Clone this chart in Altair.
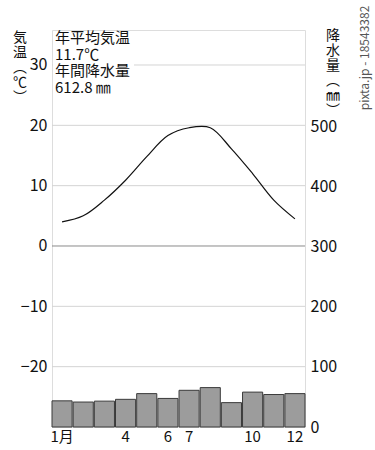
import json
import altair as alt
import pandas as pd

months = list(range(1, 13))
month_labels = ["1月", "", "", "4", "", "6", "7", "", "", "10", "", "12"]
temperature = [4.0, 5.0, 7.6, 10.9, 14.8, 18.3, 19.6, 19.6, 16.1, 12.0, 7.6, 4.5]
precipitation = [43.5, 41.5, 43.0, 46.0, 55.5, 47.5, 61.0, 65.5, 40.5, 58.0, 54.0, 55.5]
temp_ticks = [-20, -10, 0, 10, 20, 30]
precip_ticks = [0, 100, 200, 300, 400, 500]
grid_light = [30, 20, 10, -10, -20]
grid_zero = [0]
info_text = "年平均気温\n11.7℃\n年間降水量\n612.8 ㎜"
left_title = "気\n温\n︵\n℃\n︶"
right_title = "降\n水\n量\n︵\n㎜\n︶"
watermark = "pixta.jp - 18543382"

FONT = "Noto Sans CJK JP"
TEMP_DOMAIN = [-30, 35.8]
PRECIP_DOMAIN = [0, 660]

df = pd.DataFrame({"month": months, "temp": temperature, "precip": precipitation})
grid_df = pd.DataFrame({"v": grid_light})
zero_df = pd.DataFrame({"v": grid_zero})

label_expr = json.dumps(month_labels, ensure_ascii=False) + "[datum.value-1]"

x_enc = alt.X(
    "month:O",
    scale=alt.Scale(paddingInner=0.05, paddingOuter=0),
    axis=alt.Axis(
        title=None, labelAngle=0, ticks=False, domain=False,
        labelExpr=label_expr, labelFontSize=15, labelFont=FONT,
        labelColor="#111", labelPadding=2,
    ),
)

bars = alt.Chart(df).mark_bar(color="#9c9c9c", stroke="#3a3a3a", strokeWidth=1).encode(
    x=x_enc,
    y=alt.Y(
        "precip:Q",
        scale=alt.Scale(domain=PRECIP_DOMAIN, nice=False, zero=True),
        axis=alt.Axis(
            orient="right", values=precip_ticks, title=None, grid=False,
            ticks=False, domain=False, labelFontSize=16, labelFont=FONT,
            labelColor="#111", labelPadding=5, labelAlign="left",
        ),
    ),
)

grid = alt.Chart(grid_df).mark_rule(color="#d4d4d4", strokeWidth=1).encode(
    y=alt.Y("v:Q", scale=alt.Scale(domain=TEMP_DOMAIN, nice=False, zero=False), axis=None)
)
zero = alt.Chart(zero_df).mark_rule(color="#8a8a8a", strokeWidth=1).encode(
    y=alt.Y("v:Q", scale=alt.Scale(domain=TEMP_DOMAIN, nice=False, zero=False), axis=None)
)

line = alt.Chart(df).mark_line(color="#111", strokeWidth=1.2, interpolate="catmull-rom").encode(
    x=x_enc,
    y=alt.Y(
        "temp:Q",
        scale=alt.Scale(domain=TEMP_DOMAIN, nice=False, zero=False),
        axis=alt.Axis(
            orient="left", values=temp_ticks, title=None, grid=False,
            ticks=False, domain=False, labelFontSize=16, labelFont=FONT,
            labelColor="#111", labelPadding=5,
        ),
    ),
)

box = alt.Chart(pd.DataFrame({"a": [0]})).mark_rect(color="white").encode(
    x=alt.value(1), x2=alt.value(82), y=alt.value(1), y2=alt.value(68)
)

info = alt.Chart(pd.DataFrame({"a": [0]})).mark_text(
    text=info_text, lineBreak="\n", lineHeight=16.5, align="left", baseline="top",
    fontSize=15, font=FONT, color="#111",
).encode(x=alt.value(3), y=alt.value(1))

ltitle = alt.Chart(pd.DataFrame({"a": [0]})).mark_text(
    text=left_title, lineBreak="\n", lineHeight=15, align="center", baseline="top",
    fontSize=14, font=FONT, color="#111",
).encode(x=alt.value(-32), y=alt.value(1))

rtitle = alt.Chart(pd.DataFrame({"a": [0]})).mark_text(
    text=right_title, lineBreak="\n", lineHeight=15, align="center", baseline="top",
    fontSize=14, font=FONT, color="#111",
).encode(x=alt.value(281), y=alt.value(-1))

wm = alt.Chart(pd.DataFrame({"a": [0]})).mark_text(
    text=watermark, angle=270, align="center", baseline="middle",
    fontSize=12, font=FONT, color="#555",
).encode(x=alt.value(313), y=alt.value(28))

chart = alt.layer(
    grid, zero, bars, line, box, info, ltitle, rtitle, wm
).resolve_scale(y="independent").properties(
    width=253, height=397,
    padding={"left": 52, "top": 30, "right": 70, "bottom": 23},
    autosize=alt.AutoSizeParams(type="none"),
).configure_view(stroke="#222", strokeWidth=1.2).configure(background="white")

chart.save("out.html", embed_options={"renderer": "svg", "actions": False})
